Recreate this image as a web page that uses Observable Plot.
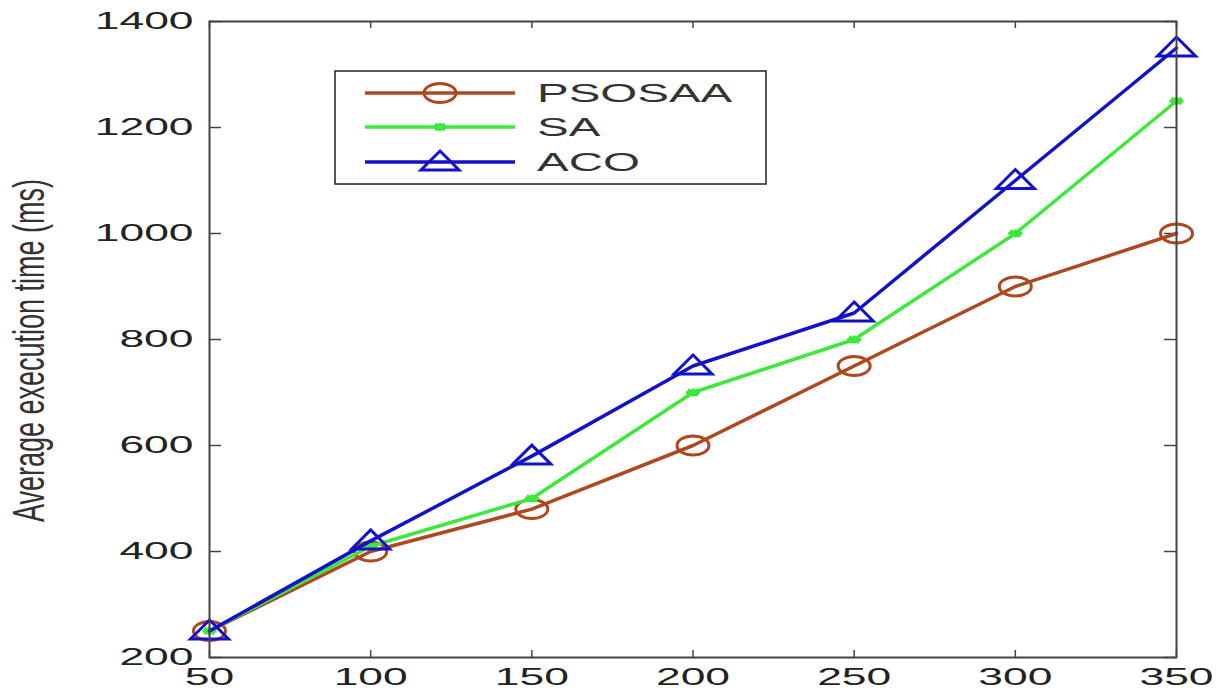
<!DOCTYPE html>
<html><head><meta charset="utf-8">
<script src="https://cdn.jsdelivr.net/npm/d3@7"></script>
<script src="https://cdn.jsdelivr.net/npm/@observablehq/plot@0.6"></script>
<style>body{margin:0;background:#fff}#chart{width:1228px;height:691px}</style>
</head><body><div id="chart"></div>
<script>
// ---- data ----
const xValues = [50, 100, 150, 200, 250, 300, 350];
const psosaa = [250, 400, 480, 600, 750, 900, 1000];
const sa     = [250, 410, 500, 700, 800, 1000, 1250];
const aco    = [250, 420, 580, 750, 850, 1100, 1350];
const seriesNames = ["PSOSAA", "SA", "ACO"];
const xTicks = [50, 100, 150, 200, 250, 300, 350];
const yTicks = [200, 400, 600, 800, 1000, 1200, 1400];
const yLabel = "Average execution time (ms)";

// ---- styles ----
const colors = ["#ad481f", "#3ce83c", "#1212c8"];
const W = 1228, H = 691, mL = 209, mR = 52, mT = 21, mB = 34;
const innerW = W - mL - mR, innerH = H - mT - mB;
const font = "'Liberation Sans', Arial, Helvetica, sans-serif";

const ellipseSym = {draw(ctx) {
  const rx = 16, ry = 9.5, k = 0.5523;
  ctx.moveTo(rx, 0);
  ctx.bezierCurveTo(rx, ry * k, rx * k, ry, 0, ry);
  ctx.bezierCurveTo(-rx * k, ry, -rx, ry * k, -rx, 0);
  ctx.bezierCurveTo(-rx, -ry * k, -rx * k, -ry, 0, -ry);
  ctx.bezierCurveTo(rx * k, -ry, rx, -ry * k, rx, 0);
  ctx.closePath();
}};
const starSym = {draw(ctx) {
  ctx.moveTo(-7, 0); ctx.lineTo(7, 0);
  ctx.moveTo(0, -4); ctx.lineTo(0, 4);
  ctx.moveTo(-5, -3); ctx.lineTo(5, 3);
  ctx.moveTo(-5, 3); ctx.lineTo(5, -3);
}};
const triSym = {draw(ctx) {
  ctx.moveTo(0, -11); ctx.lineTo(19, 8); ctx.lineTo(-19, 8); ctx.closePath();
}};
const symbols = [ellipseSym, starSym, triSym];
const symStroke = [3, 3, 3];

const seriesValues = [psosaa, sa, aco];
const rows = seriesNames.map((name, s) => xValues.map((x, i) => ({x, y: seriesValues[s][i], series: name})));

const seriesMarks = [];
seriesNames.forEach((name, s) => {
  seriesMarks.push(Plot.line(rows[s], {x: "x", y: "y", stroke: colors[s], strokeWidth: 3.5}));
  seriesMarks.push(Plot.dot(rows[s], {x: "x", y: "y", symbol: symbols[s], stroke: colors[s], fill: "none", strokeWidth: symStroke[s]}));
});

const plot = Plot.plot({
  width: W, height: H,
  marginLeft: mL, marginRight: mR, marginTop: mT, marginBottom: mB,
  x: {domain: [50, 350]},
  y: {domain: [200, 1400]},
  style: {fontFamily: font, background: "#fff", overflow: "visible"},
  marks: [
    Plot.axisX({ticks: xTicks, tickSize: 0, tickPadding: 10, fontSize: 24, color: "#222", label: null, tickFormat: d => String(d)}),
    Plot.axisY({ticks: yTicks, tickSize: 0, tickPadding: 16, fontSize: 24, color: "#222", label: null, tickFormat: d => String(d)}),
    Plot.ruleX(xTicks, {x: d => d, insetTop: innerH - 7, stroke: "#444", strokeWidth: 1.5}),
    Plot.ruleX(xTicks, {x: d => d, insetBottom: innerH - 7, stroke: "#444", strokeWidth: 1.5}),
    Plot.ruleY(yTicks, {y: d => d, insetRight: innerW - 12, stroke: "#444", strokeWidth: 1.5}),
    Plot.ruleY(yTicks, {y: d => d, insetLeft: innerW - 12, stroke: "#444", strokeWidth: 1.5}),
    ...seriesMarks,
    Plot.frame({stroke: "#444", strokeWidth: 2}),
    Plot.text([yLabel], {frameAnchor: "left", textAnchor: "middle", lineAnchor: "middle", rotate: -90, dx: -180, dy: 11, fontSize: 27, fill: "#333", text: d => d, className: "ylabel"})
  ]
});
document.getElementById("chart").appendChild(plot);

const svg = d3.select(plot);
function stretch(sel, sx, sy) {
  sel.each(function() {
    const t = d3.select(this);
    const tr = t.attr("transform");
    if (tr) t.attr("transform", tr + ` scale(${sx},${sy})`);
    else {
      const x = +t.attr("x") || 0, y = +t.attr("y") || 0;
      t.attr("transform", `translate(${x},${y}) scale(${sx},${sy}) translate(${-x},${-y})`);
    }
  });
}
stretch(svg.selectAll('g[aria-label="x-axis tick label"] text'), 1.85, 1);
stretch(svg.selectAll('g[aria-label="y-axis tick label"] text'), 1.85, 1);
stretch(svg.selectAll('.ylabel text'), 1, 1.65);

// ---- legend ----
const lg = svg.append("g").attr("font-family", font).attr("text-anchor", "start");
lg.append("rect").attr("x", 335).attr("y", 71).attr("width", 431).attr("height", 113)
  .attr("fill", "#fff").attr("stroke", "#222").attr("stroke-width", 1.5);
const rowY = [93, 127, 162];
seriesNames.forEach((name, s) => {
  const y = rowY[s];
  lg.append("line").attr("x1", 365).attr("x2", 515).attr("y1", y).attr("y2", y)
    .attr("stroke", colors[s]).attr("stroke-width", 3.5);
  lg.append("path").attr("d", d3.symbol(symbols[s], 64)()).attr("transform", `translate(440,${y})`)
    .attr("fill", "none").attr("stroke", colors[s]).attr("stroke-width", symStroke[s]);
  lg.append("text").attr("text-anchor", "start").attr("transform", `translate(537,${y}) scale(1.9,1)`).attr("dy", "0.36em")
    .attr("font-size", 25).attr("fill", "#333").text(name);
});
</script>
</body></html>
